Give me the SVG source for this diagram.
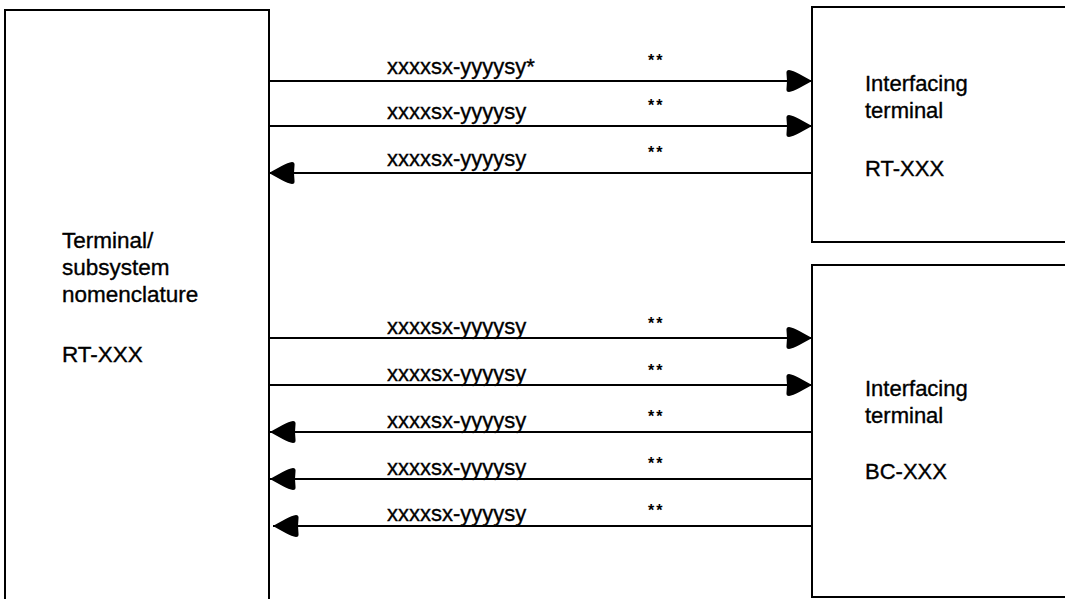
<svg xmlns="http://www.w3.org/2000/svg" width="1065" height="599" viewBox="0 0 1065 599">
<style>
.box{fill:#fff;stroke:#000;stroke-width:2}
.t{font-family:"Liberation Sans",Arial,sans-serif;font-size:22px;fill:#000;stroke:#000;stroke-width:0.35}
.bt{font-size:22.5px}
.st{font-family:"Liberation Sans",Arial,sans-serif;font-size:16px;font-weight:bold;fill:#000;letter-spacing:2px}
.c{stroke:#000;stroke-width:2;fill:none}
</style>
<defs>
<marker id="ah" viewBox="0 0 26 23" refX="26" refY="11.5" markerWidth="26" markerHeight="23" markerUnits="userSpaceOnUse" orient="auto">
<path d="M26,11.5 C18,7 8,1 3,0.5 Q0,0.5 0.5,4 Q1.5,11.5 0.5,19 Q0,22.5 3,22.5 C8,22 18,16 26,11.5 Z" fill="#000"/>
</marker>
</defs>
<rect width="1065" height="599" fill="#fff"/>
<g id="subsystem">
<rect class="box" x="5" y="10" width="264" height="600"/>
<text class="t bt" x="62" y="248">Terminal/</text>
<text class="t bt" x="62" y="275">subsystem</text>
<text class="t bt" x="62" y="302">nomenclature</text>
<text class="t bt" x="62" y="362">RT-XXX</text>
</g>
<g id="rt-terminal">
<rect class="box" x="812" y="7" width="260" height="235"/>
<text class="t" x="865" y="91">Interfacing</text>
<text class="t" x="865" y="118">terminal</text>
<text class="t" x="865" y="176">RT-XXX</text>
</g>
<g id="bc-terminal">
<rect class="box" x="812" y="265" width="260" height="332"/>
<text class="t" x="865" y="396">Interfacing</text>
<text class="t" x="865" y="423">terminal</text>
<text class="t" x="865" y="479">BC-XXX</text>
</g>
<g id="connectors">
<line class="c" x1="269" y1="81" x2="812" y2="81" marker-end="url(#ah)"/>
<line class="c" x1="269" y1="126" x2="812" y2="126" marker-end="url(#ah)"/>
<line class="c" x1="812" y1="173" x2="269" y2="173" marker-end="url(#ah)"/>
<line class="c" x1="269" y1="338" x2="812" y2="338" marker-end="url(#ah)"/>
<line class="c" x1="269" y1="385" x2="812" y2="385" marker-end="url(#ah)"/>
<line class="c" x1="812" y1="432" x2="270" y2="432" marker-end="url(#ah)"/>
<line class="c" x1="812" y1="479" x2="270" y2="479" marker-end="url(#ah)"/>
<line class="c" x1="812" y1="526" x2="273" y2="526" marker-end="url(#ah)"/>
</g>
<g id="labels">
<text class="t" x="387" y="74">xxxxsx-yyyysy*</text>
<text class="t" x="387" y="119">xxxxsx-yyyysy</text>
<text class="t" x="387" y="166">xxxxsx-yyyysy</text>
<text class="t" x="387" y="334">xxxxsx-yyyysy</text>
<text class="t" x="387" y="381">xxxxsx-yyyysy</text>
<text class="t" x="387" y="428">xxxxsx-yyyysy</text>
<text class="t" x="387" y="475">xxxxsx-yyyysy</text>
<text class="t" x="387" y="521">xxxxsx-yyyysy</text>
<text class="st" x="648" y="66">**</text>
<text class="st" x="648" y="111">**</text>
<text class="st" x="648" y="158">**</text>
<text class="st" x="648" y="329">**</text>
<text class="st" x="648" y="376">**</text>
<text class="st" x="648" y="422">**</text>
<text class="st" x="648" y="469">**</text>
<text class="st" x="648" y="516">**</text>
</g>
</svg>
